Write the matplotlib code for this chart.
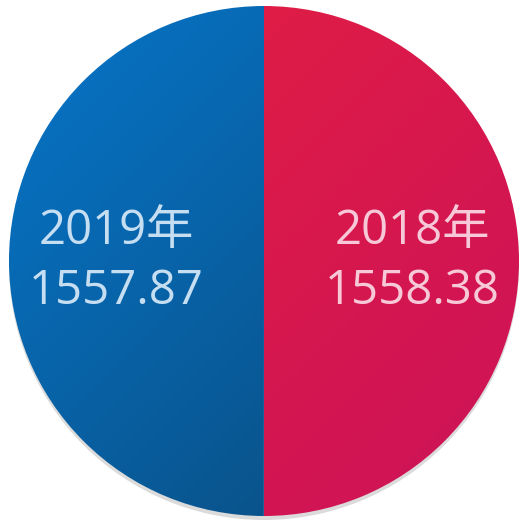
import numpy as np
import matplotlib.pyplot as plt
from matplotlib.colors import LinearSegmentedColormap

plt.rcParams['font.family'] = ['Open Sans', 'Noto Sans CJK SC', 'DejaVu Sans']

years = ["2018年", "2019年"]
values = [1558.38, 1557.87]
# gradient start/end colours per slice
grad_colors = [("#E52040", "#CC1259"), ("#0776CA", "#0A4877")]
text_colors = ["#F7C9D8", "#C6DEF2"]

W, H = 520, 522
fig = plt.figure(figsize=(W / 100, H / 100), dpi=100)
ax = fig.add_axes([0, 0, 1, 1])
ax.axis("off")

cx, cy, r = 264, 261, 255

# soft shadow under the disc (bottom only)
shadow = plt.Circle((cx, cy - 4), r, color="#888888", alpha=0.3, lw=0)
ax.add_patch(shadow)

wedges, _ = ax.pie(values, startangle=90, counterclock=False,
                   center=(cx, cy), radius=r,
                   wedgeprops=dict(linewidth=0))

# diagonal gradient image (top-left -> bottom-right)
n = 300
gx, gy = np.meshgrid(np.linspace(0, 1, n), np.linspace(0, 1, n))
grad = (gx + gy) / 2

for w, (c0, c1), tc, yr, v in zip(wedges, grad_colors, text_colors, years, values):
    cmap = LinearSegmentedColormap.from_list("g", [c0, c1])
    w.set_facecolor("none")
    im = ax.imshow(grad, cmap=cmap, extent=(cx - r, cx + r, cy - r, cy + r),
                   origin="upper", zorder=1, interpolation="bilinear")
    im.set_clip_path(w)
    ang = np.deg2rad((w.theta1 + w.theta2) / 2)
    tx = cx + 0.58 * r * np.cos(ang)
    ax.text(tx, cy + 30, yr, color=tc, fontsize=34, ha="center", va="center", zorder=3)
    ax.text(tx, cy - 30, f"{v:.2f}", color=tc, fontsize=34, ha="center", va="center", zorder=3)

ax.set_aspect("equal")
ax.set_xlim(0, W)
ax.set_ylim(0, H)
fig.savefig("out.png", dpi=100)
